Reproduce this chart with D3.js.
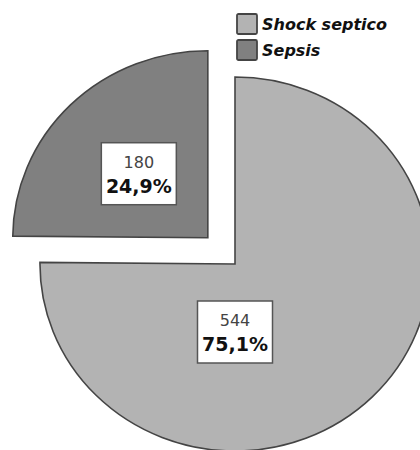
<!DOCTYPE html>
<html><head><meta charset="utf-8">
<script src="https://cdn.jsdelivr.net/npm/d3@7"></script>
<style>body{margin:0;background:#fff}svg{display:block}</style>
</head><body>
<svg id="c" width="420" height="450"></svg>
<script>
const categories = ["Shock septico", "Sepsis"];
const counts = [544, 180];
const percentLabels = ["75,1%", "24,9%"];
const colors = ["#b3b3b3", "#808080"];

const svg = d3.select("#c");
const cx = 235, cy = 264, ry = 187, sx = 1.043;
const explode = [0, 37];
// label box offsets relative to slice vertex (screen px)
const labelOff = [[0, 68], [-69, -64]];

const pie = d3.pie().sort(null).value(d => d)(counts);
const arc = d3.arc().innerRadius(0).outerRadius(ry);

const g = svg.append("g").attr("transform", `translate(${cx},${cy}) scale(${sx},1)`);
pie.forEach((p, i) => {
  const mid = (p.startAngle + p.endAngle) / 2;
  const dx = Math.sin(mid) * explode[i], dy = -Math.cos(mid) * explode[i];
  g.append("path")
    .attr("d", arc(p))
    .attr("transform", `translate(${dx},${dy})`)
    .attr("fill", colors[i])
    .attr("stroke", "#444")
    .attr("stroke-width", 1.6)
    .attr("vector-effect", "non-scaling-stroke")
    .attr("stroke-linejoin", "miter");
});

// labels
pie.forEach((p, i) => {
  const mid = (p.startAngle + p.endAngle) / 2;
  const vx = cx + Math.sin(mid) * explode[i] * sx;
  const vy = cy - Math.cos(mid) * explode[i];
  const bx = vx + labelOff[i][0], by = vy + labelOff[i][1];
  const lg = svg.append("g").attr("transform", `translate(${bx},${by})`);
  lg.append("rect").attr("x", -37.5).attr("y", -31).attr("width", 75).attr("height", 62)
    .attr("fill", "#fff").attr("stroke", "#555").attr("stroke-width", 1.5);
  lg.append("text").attr("x", 0).attr("y", -6).attr("text-anchor", "middle")
    .attr("font-family", "DejaVu Sans, Verdana, sans-serif").attr("font-size", 16)
    .attr("fill", "#444").text(counts[i]);
  lg.append("text").attr("x", 0).attr("y", 19).attr("text-anchor", "middle")
    .attr("font-family", "DejaVu Sans, Verdana, sans-serif").attr("font-size", 19)
    .attr("font-weight", "bold").attr("fill", "#111").text(percentLabels[i]);
});

// legend
const leg = svg.append("g").attr("transform", "translate(237,14)");
categories.forEach((c, i) => {
  const r = leg.append("g").attr("transform", `translate(0,${i * 26})`);
  r.append("rect").attr("x", 0).attr("y", 0).attr("width", 20).attr("height", 20)
    .attr("rx", 1.5).attr("fill", colors[i]).attr("stroke", "#444").attr("stroke-width", 1.8);
  r.append("text").attr("x", 25).attr("y", 16)
    .attr("font-family", "DejaVu Sans, sans-serif").attr("font-size", 16)
    .attr("font-weight", "bold").attr("font-style", "italic").attr("fill", "#111").text(c);
});
</script>
</body></html>
